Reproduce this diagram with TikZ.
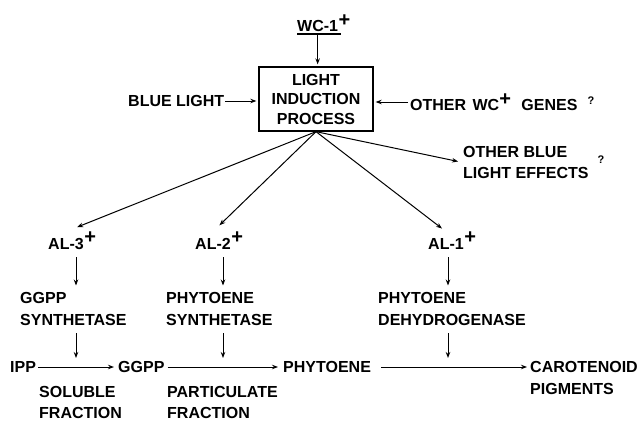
\documentclass[tikz,border=0pt]{standalone}
\usepackage{fontspec}
\setmainfont{Liberation Sans}
\usetikzlibrary{arrows.meta}
\newcommand\pluss{\raisebox{5.5pt}{\fontsize{20}{20}\selectfont\bfseries +}}
\newcommand\splus{\rlap{\kern0.5pt\pluss}}
\begin{document}
\begin{tikzpicture}[x=1pt,y=1pt,
  lbl/.style={inner sep=0pt, font=\fontsize{16}{22}\selectfont\bfseries, align=left},
  lbl2/.style={lbl, font=\fontsize{16}{20.5}\selectfont\bfseries},
  qm/.style={inner sep=0pt, font=\fontsize{11}{12}\selectfont\bfseries},
  arr/.style={-{Stealth[length=6pt,width=4.5pt]}, line width=1pt}]
\useasboundingbox (0,0) rectangle (639,-420);
\coordinate (col1) at (76,0);
\coordinate (col2) at (223,0);
\coordinate (col3) at (448,0);
% top
\node[lbl, anchor=base west] (wc) at (297,-32) {WC-1\splus};
\draw[line width=1.2pt] ([yshift=-2pt]wc.base west) -- ([yshift=-2pt,xshift=3pt]wc.base east);
\node[draw, line width=1.3pt, minimum width=114pt, minimum height=64pt, inner sep=0pt,
      font=\fontsize{16}{19.5}\selectfont\bfseries, align=center] (box) at (316,-99) {LIGHT\\INDUCTION\\PROCESS};
\draw[arr, shorten <=3pt, shorten >=2pt] (wc.south) -- (wc.south |- box.north);
\node[lbl, anchor=west] (blue) at (128,-101) {BLUE LIGHT};
\draw[arr, shorten <=1pt, shorten >=2pt] (blue.east) -- (blue.east -| box.west);
\node[lbl, anchor=west] (owc) at (410,-102) {OTHER\hspace{2pt} WC\pluss\hspace{6pt} GENES};
\node[qm] (q1) at (591,-101) {?};
\draw[arr, shorten <=2pt, shorten >=2pt] (owc.west) -- (owc.west -| box.east);
\node[lbl2, anchor=west] (ob) at (463,-162.5) {OTHER BLUE\\LIGHT EFFECTS};
\node[qm] (q2) at (601,-160) {?};
% diagonal arrows
\draw[arr, shorten >=5pt] (box.south) -- (ob.west);
\node[lbl, anchor=base west] (al3) at (48,-249) {AL-3\splus};
\node[lbl, anchor=base west] (al2) at (195,-249) {AL-2\splus};
\node[lbl, anchor=base west] (al1) at (428,-249) {AL-1\splus};
\draw[arr, shorten >=12pt] (box.south) -- (al3.north);
\draw[arr, shorten >=9pt] (box.south) -- (al2.north);
\draw[arr, shorten >=5pt] (box.south) -- (al1.north);
% enzymes
\node[lbl, anchor=north west] (gs) at (20,-292.5) {GGPP\\SYNTHETASE};
\node[lbl, anchor=north west] (ps) at (166,-292.5) {PHYTOENE\\SYNTHETASE};
\node[lbl, anchor=north west] (pd) at (378,-292.5) {PHYTOENE\\DEHYDROGENASE};
\draw[arr, shorten <=8pt, shorten >=7pt] (al3.south -| col1) -- (gs.north -| col1);
\draw[arr, shorten <=8pt, shorten >=7pt] (al2.south -| col2) -- (ps.north -| col2);
\draw[arr, shorten <=8pt, shorten >=7pt] (al1.south -| col3) -- (pd.north -| col3);
% bottom row
\node[lbl, anchor=west] (ipp) at (10,-367) {IPP};
\node[lbl, anchor=west] (gg) at (118,-367) {GGPP};
\node[lbl, anchor=west] (ph) at (283,-367) {PHYTOENE};
\node[lbl, anchor=north west] (car) at (530,-361.25) {CAROTENOID\\PIGMENTS};
\draw[arr, shorten <=2pt, shorten >=4pt] (ipp.east) -- (gg.west);
\draw[arr, shorten <=3pt, shorten >=5pt] (gg.east) -- (ph.west);
\draw[arr, shorten <=10pt, shorten >=3pt] (ph.east) -- (ph.east -| car.west);
\draw[arr, shorten <=7pt, shorten >=9pt] (gs.south -| col1) -- (ipp -| col1);
\draw[arr, shorten <=7pt, shorten >=9pt] (ps.south -| col2) -- (ipp -| col2);
\draw[arr, shorten <=7pt, shorten >=9pt] (pd.south -| col3) -- (ipp -| col3);
\node[lbl2, anchor=north west] (sol) at (39,-386.25) {SOLUBLE\\FRACTION};
\node[lbl2, anchor=north west] (par) at (167,-386.25) {PARTICULATE\\FRACTION};
\end{tikzpicture}
\end{document}
